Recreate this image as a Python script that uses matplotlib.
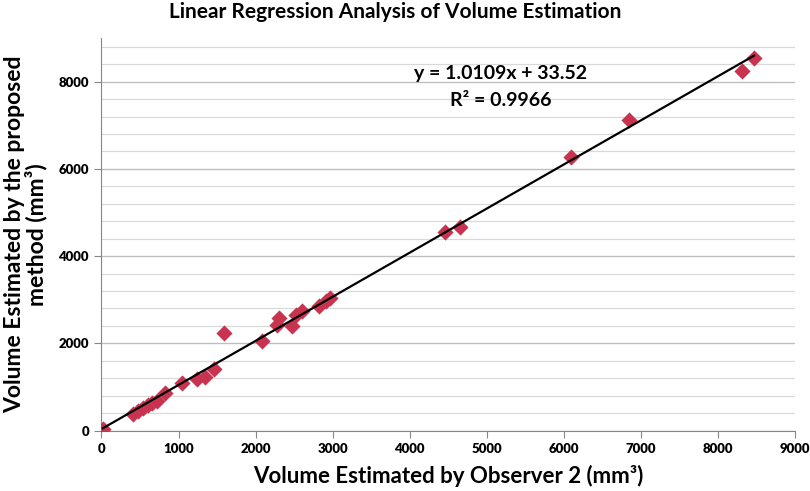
import matplotlib
matplotlib.use("Agg")
import matplotlib.pyplot as plt
from matplotlib.ticker import MultipleLocator

# values (mm^3)
observer2 = [20, 410, 480, 540, 600, 660, 720, 820, 1040, 1240, 1340, 1460, 1590,
             2080, 2280, 2300, 2470, 2530, 2600, 2820, 2920, 2960,
             4460, 4660, 6090, 6850, 8320, 8470]
proposed = [30, 390, 440, 520, 580, 620, 670, 870, 1080, 1180, 1220, 1420, 2230,
            2050, 2420, 2580, 2400, 2660, 2740, 2850, 2960, 3040,
            4550, 4660, 6280, 7130, 8240, 8550]
slope, intercept, r2 = 1.0109, 33.52, 0.9966

plt.rcParams["font.family"] = ["Lato", "DejaVu Sans"]
plt.rcParams["font.weight"] = "bold"

fig = plt.figure(figsize=(8.1, 4.91), dpi=100)
ax = fig.add_axes([0.1253, 0.1232, 0.856, 0.7994])

ax.yaxis.set_major_locator(MultipleLocator(2000))
ax.yaxis.set_minor_locator(MultipleLocator(400))
ax.xaxis.set_major_locator(MultipleLocator(1000))
ax.grid(True, axis="y", which="minor", color="#d9d9d9", lw=0.9)
ax.grid(True, axis="y", which="major", color="#bfbfbf", lw=1.0)
ax.set_axisbelow(True)

ax.scatter(observer2, proposed, marker="D", s=68, color="#c8344f", lw=0, zorder=3)
xs = [min(observer2), max(observer2)]
ax.plot(xs, [slope * v + intercept for v in xs], color="black", lw=1.6, zorder=4)

ax.set_xlim(0, 9000)
ax.set_ylim(0, 9000)
ax.set_yticks([0, 2000, 4000, 6000, 8000])

for s in ("top", "right"):
    ax.spines[s].set_visible(False)
for s in ("left", "bottom"):
    ax.spines[s].set_color("#868686")
ax.tick_params(axis="both", which="major", length=5, color="#868686",
               labelsize=9.5, pad=4)
ax.tick_params(axis="y", which="minor", length=0)
for lab in ax.get_xticklabels() + ax.get_yticklabels():
    lab.set_fontweight("heavy")

ax.text(5180, 8180, f"y = {slope}x + {intercept}", ha="center", va="center",
        fontsize=14, fontweight="bold")
ax.text(5180, 7560, f"R\u00b2 = {r2}", ha="center", va="center",
        fontsize=14, fontweight="bold")

fig.suptitle("Linear Regression Analysis of Volume Estimation", x=0.488, y=0.995,
             fontsize=15, fontweight="bold")
ax.set_xlabel("Volume Estimated by Observer 2 (mm\u00b3)", fontsize=16,
              fontweight="bold", labelpad=7)
ax.set_ylabel("Volume Estimated by the proposed\nmethod (mm\u00b3)", fontsize=16.5,
              fontweight="bold", labelpad=8, linespacing=1.0)

fig.savefig("out.png", dpi=100)
